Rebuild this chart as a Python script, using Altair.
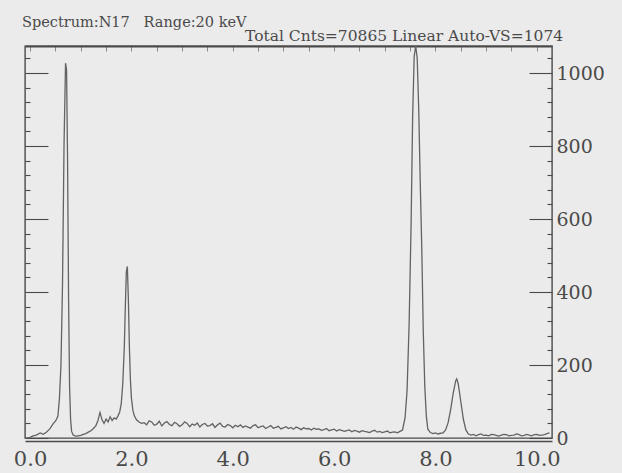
import altair as alt
import pandas as pd

# ---- data (energy in keV, counts) ----
energy_low = [-0.06, 0.00, 0.06, 0.12, 0.20, 0.26, 0.32, 0.39, 0.45, 0.51, 0.55, 0.58,
              0.61, 0.64, 0.67, 0.70, 0.72, 0.74, 0.76, 0.78, 0.80, 0.82, 0.85, 0.90, 0.95]
counts_low = [0, 2, 6, 8, 14, 10, 16, 25, 38, 48, 60, 110,
              200, 420, 800, 1027, 1010, 760, 380, 140, 50, 18, 8, 5, 6]

energy_mid = [1.00, 1.05, 1.10, 1.15, 1.20, 1.25, 1.30, 1.34, 1.38, 1.42, 1.46, 1.50,
              1.54, 1.58, 1.62, 1.66, 1.70, 1.74, 1.77, 1.80, 1.83, 1.86, 1.88, 1.90,
              1.92, 1.94, 1.96, 1.98, 2.00, 2.03, 2.06, 2.10, 2.15, 2.20]
counts_mid = [7, 10, 12, 16, 20, 26, 34, 48, 70, 50, 40, 52,
              44, 58, 48, 55, 52, 62, 72, 95, 150, 250, 360, 455,
              470, 380, 250, 160, 110, 75, 60, 50, 44, 40]

energy_base = [2.25, 2.30, 2.35, 2.40, 2.45, 2.50, 2.55, 2.60, 2.65, 2.70, 2.75, 2.80,
               2.85, 2.90, 2.95, 3.00, 3.05, 3.10, 3.15, 3.20, 3.25, 3.30, 3.35, 3.40,
               3.45, 3.50, 3.55, 3.60, 3.65, 3.70, 3.75, 3.80, 3.85, 3.90, 3.95, 4.00,
               4.05, 4.10, 4.15, 4.20, 4.25, 4.30, 4.35, 4.40, 4.45, 4.50, 4.55, 4.60,
               4.65, 4.70, 4.75, 4.80, 4.85, 4.90, 4.95, 5.00, 5.05, 5.10, 5.15, 5.20,
               5.25, 5.30, 5.35, 5.40, 5.45, 5.50, 5.55, 5.60, 5.65, 5.70, 5.75, 5.80,
               5.85, 5.90, 5.95, 6.00, 6.05, 6.10, 6.15, 6.20, 6.25, 6.30, 6.35, 6.40,
               6.45, 6.50, 6.55, 6.60, 6.65, 6.70, 6.75, 6.80, 6.85, 6.90, 6.95, 7.00,
               7.05, 7.10, 7.15, 7.20, 7.25, 7.30]
counts_base = [42, 36, 47, 44, 35, 38, 46, 33, 41, 45, 37, 34,
               43, 39, 32, 36, 44, 40, 31, 38, 35, 41, 30, 37,
               40, 33, 34, 39, 29, 36, 41, 32, 30, 37, 34, 28,
               35, 31, 36, 29, 33, 30, 27, 34, 36, 28, 31, 33,
               26, 30, 34, 27, 29, 32, 25, 28, 31, 26, 29, 24,
               30, 27, 23, 28, 25, 26, 22, 27, 24, 25, 21, 23,
               26, 20, 22, 24, 19, 23, 21, 18, 20, 22, 17, 21,
               19, 16, 20, 18, 17, 15, 19, 21, 16, 18, 15, 17,
               19, 14, 16, 17, 14, 18]

energy_ka = [7.35, 7.40, 7.44, 7.48, 7.52, 7.55, 7.58, 7.61, 7.64, 7.67, 7.70, 7.73,
             7.76, 7.79, 7.82, 7.85, 7.90, 7.95, 8.00, 8.05, 8.10]
counts_ka = [22, 55, 130, 310, 590, 880, 1045, 1074, 1040, 900, 700, 520,
             290, 140, 60, 24, 15, 12, 14, 11, 13]

energy_kb = [8.15, 8.20, 8.25, 8.30, 8.35, 8.40, 8.42, 8.45, 8.50, 8.55, 8.60, 8.65]
counts_kb = [14, 22, 42, 78, 122, 157, 162, 148, 100, 52, 22, 11]

energy_tail = [8.70, 8.75, 8.80, 8.85, 8.90, 8.95, 9.00, 9.05, 9.10, 9.15, 9.20, 9.25,
               9.30, 9.35, 9.40, 9.45, 9.50, 9.55, 9.60, 9.65, 9.70, 9.75, 9.80, 9.85,
               9.90, 9.95, 10.00, 10.05, 10.10, 10.15, 10.20, 10.25]
counts_tail = [8, 10, 6, 9, 11, 7, 8, 6, 10, 9, 7, 5,
               8, 10, 9, 6, 7, 8, 11, 9, 6, 7, 10, 8,
               6, 9, 10, 7, 8, 9, 12, 14]

x_tick_values = [0, 2, 4, 6, 8, 10]
y_tick_values = [0, 200, 400, 600, 800, 1000]
y_minor_values = [40, 80, 120, 160, 240, 280, 320, 360, 440, 480, 520, 560,
                  640, 680, 720, 760, 840, 880, 920, 960, 1040]
x_top_values = [0, 0.5, 1, 1.5, 2, 2.5, 3, 3.5, 4, 4.5, 5, 5.5, 6, 6.5, 7, 7.5,
                8, 8.5, 9, 9.5, 10]

NB = "\u00a0"
header_left = "Spectrum:N17" + NB * 3 + "Range:20 keV"
header_right = "Total Cnts=70865 Linear Auto-VS=1074"

df = pd.DataFrame({
    "energy": energy_low + energy_mid + energy_base + energy_ka + energy_kb + energy_tail,
    "counts": counts_low + counts_mid + counts_base + counts_ka + counts_kb + counts_tail,
})

W, H = 527, 392
SERIF = "DejaVu Serif"
INK = "#4a4a4a"
LINE = "#636363"

x_scale = alt.Scale(domain=[-0.1, 10.3], nice=False, zero=False)
y_scale = alt.Scale(domain=[0, 1074], nice=False, zero=True)

spectrum = alt.Chart(df).mark_line(color=LINE, strokeWidth=1.3).encode(
    x=alt.X("energy:Q", scale=x_scale,
            axis=alt.Axis(orient="bottom", values=x_tick_values, format=".1f", title=None,
                          grid=False, ticks=False, labelFont=SERIF, labelFontSize=21,
                          labelColor=INK, labelPadding=7, labelFlush=False,
                          domainColor=INK, domainWidth=1.6, offset=3)),
    y=alt.Y("counts:Q", scale=y_scale,
            axis=alt.Axis(orient="right", values=y_tick_values, format="d", title=None,
                          grid=False, ticks=False, domain=False, labelFont=SERIF,
                          labelFontSize=19, labelColor=INK, labelPadding=4,
                          labelFlush=False)),
)


def y_tick_layer(orient, size, values):
    return alt.Chart(df).mark_point(opacity=0).encode(
        x=alt.X("energy:Q", scale=x_scale, axis=None),
        y=alt.Y("counts:Q", scale=y_scale,
                axis=alt.Axis(orient=orient, offset=-W, tickSize=size, values=values,
                              labels=False, domain=False, grid=False, title=None,
                              tickColor=INK, tickWidth=1.1)),
    )


top_ticks = alt.Chart(df).mark_point(opacity=0).encode(
    x=alt.X("energy:Q", scale=x_scale,
            axis=alt.Axis(orient="bottom", offset=-H, tickSize=5, values=x_top_values,
                          labels=False, domain=True, domainWidth=2.2, domainColor=INK,
                          grid=False, title=None, tickColor="#888888", tickWidth=1)),
    y=alt.Y("counts:Q", scale=y_scale, axis=None),
)

text_left = alt.Chart(pd.DataFrame({"t": [header_left]})).mark_text(
    font=SERIF, fontSize=14.5, color=INK, align="left", baseline="alphabetic"
).encode(x=alt.value(-3), y=alt.value(-19), text="t:N")

text_right = alt.Chart(pd.DataFrame({"t": [header_right]})).mark_text(
    font=SERIF, fontSize=15.5, color=INK, align="left", baseline="alphabetic"
).encode(x=alt.value(220), y=alt.value(-5), text="t:N")

chart = alt.layer(
    spectrum,
    y_tick_layer("left", 23, y_tick_values),
    y_tick_layer("left", 5, y_minor_values),
    y_tick_layer("right", 23, y_tick_values),
    y_tick_layer("right", 5, y_minor_values),
    top_ticks,
    text_left,
    text_right,
).resolve_axis(y="independent", x="independent").resolve_scale(
    x="shared", y="shared"
).properties(
    width=W, height=H,
    padding={"left": 25, "top": 46, "right": 70, "bottom": 35},
    autosize=alt.AutoSizeParams(type="none"),
    background="#ebebeb",
).configure_view(stroke=INK, strokeWidth=1.4)

chart.save("out.html", embed_options={"renderer": "svg", "actions": False})
